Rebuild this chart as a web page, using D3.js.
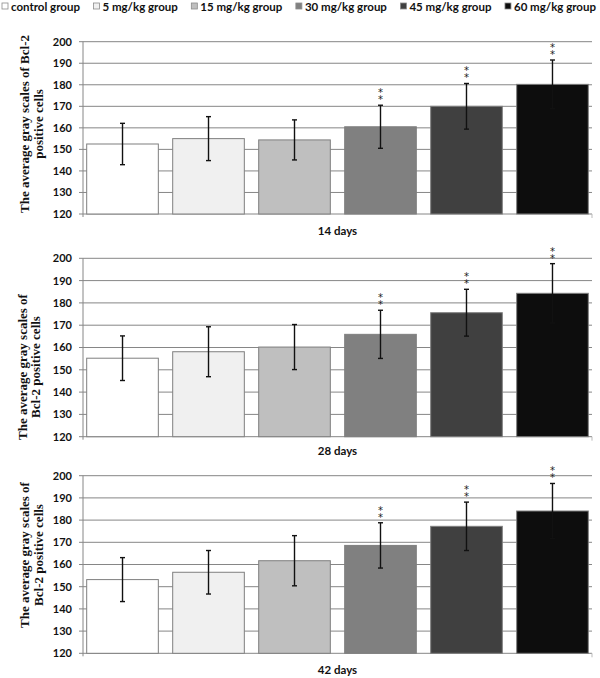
<!DOCTYPE html>
<html>
<head>
<meta charset="utf-8">
<script src="https://cdn.jsdelivr.net/npm/d3@7"></script>
<style>
  html, body { margin: 0; padding: 0; background: #fff; }
  svg { display: block; }
  .stars { writing-mode: vertical-rl; text-orientation: upright; }
</style>
</head>
<body>
<svg id="chart" width="600" height="678"></svg>
<script>
// ---- data ----
const groups = ["control group", "5 mg/kg group", "15 mg/kg group", "30 mg/kg group", "45 mg/kg group", "60 mg/kg group"];
const groupColors = ["#ffffff", "#f0f0f0", "#bfbfbf", "#808080", "#404040", "#0d0d0d"];
const dayLabels = ["14 days", "28 days", "42 days"];
const mean14 = [152.5, 155.0, 154.4, 160.5, 170.0, 180.2];
const err14  = [9.6, 10.2, 9.3, 10.0, 10.6, 11.3];
const mean28 = [155.2, 158.1, 160.2, 165.9, 175.6, 184.3];
const err28  = [10.0, 11.2, 10.1, 10.8, 10.5, 13.3];
const mean42 = [153.2, 156.5, 161.7, 168.6, 177.2, 184.1];
const err42  = [9.9, 9.8, 11.3, 10.2, 10.9, 12.4];
const significance = ["", "", "", "**", "**", "**"];
const yTicks = [120, 130, 140, 150, 160, 170, 180, 190, 200];
const yTitles = [
  ["The average gray scales of Bcl-2", "positive cells"],
  ["The average gray scales of", "Bcl-2 positive cells"],
  ["The average gray scales of", "Bcl-2 positive cells"]
];
const means = [mean14, mean28, mean42];
const errs = [err14, err28, err42];

// ---- layout ----
const layout = [
  { top: 41.7, bottom: 214, labelY: 235, titleCY: 124, titleX: [29, 42.5] },
  { top: 258.3, bottom: 436.7, labelY: 455, titleCY: 367, titleX: [27, 39.5] },
  { top: 475.7, bottom: 653.3, labelY: 673.5, titleCY: 555, titleX: [29, 43] }
];
const plotLeft = 83, plotRight = 592;
const gridColor = "#868686";
const sans = "Lato, 'Open Sans', sans-serif";
const serif = "'Liberation Serif', 'Times New Roman', serif";

const svg = d3.select("#chart");

const x = d3.scaleBand().domain(groups).range([plotLeft, plotRight])
  .paddingInner(0.167).paddingOuter(0.043);

// legend: measure, then spread items across the width
const legend = svg.append("g").attr("class", "legend");
const items = groups.map((g, i) => {
  const item = legend.append("g");
  const r = item.append("rect").attr("y", 3).attr("width", 6).attr("height", 6)
    .attr("fill", groupColors[i]).attr("stroke", "#8c8c8c").attr("stroke-width", 0.8);
  const t = item.append("text").attr("y", 10.5)
    .attr("font-family", sans).attr("font-weight", "bold").attr("font-size", "11.5px")
    .attr("fill", "#111").text(g);
  return { r, t, w: t.node().getComputedTextLength() };
});
const legStart = 2, legEnd = 596;
const used = d3.sum(items, d => 9 + d.w);
const gap = (legEnd - legStart - used) / (items.length - 1);
let lx = legStart;
items.forEach(d => {
  d.r.attr("x", lx);
  d.t.attr("x", lx + 9);
  lx += 9 + d.w + gap;
});

layout.forEach((L, p) => {
  const g = svg.append("g");
  const y = d3.scaleLinear().domain([120, 200]).range([L.bottom, L.top]);

  // gridlines + ticks
  g.selectAll(".grid").data(yTicks).join("line")
    .attr("x1", plotLeft - 4).attr("x2", plotRight)
    .attr("y1", d => y(d)).attr("y2", d => y(d))
    .attr("stroke", gridColor).attr("stroke-width", 1);
  // y axis line
  g.append("line").attr("x1", plotLeft).attr("x2", plotLeft)
    .attr("y1", y(200)).attr("y2", y(120) + 3)
    .attr("stroke", gridColor).attr("stroke-width", 1);
  g.append("line").attr("x1", plotRight).attr("x2", plotRight)
    .attr("y1", y(120)).attr("y2", y(120) + 4)
    .attr("stroke", "#bbb").attr("stroke-width", 1);

  // tick labels
  g.selectAll(".tl").data(yTicks).join("text")
    .attr("x", 72).attr("y", d => y(d)).attr("dy", "0.36em")
    .attr("text-anchor", "end")
    .attr("font-family", sans).attr("font-weight", "bold").attr("font-size", "11px")
    .attr("fill", "#111").text(d => d);

  // bars
  const rows = groups.map((gr, i) => ({ g: gr, i, v: means[p][i], e: errs[p][i], s: significance[i] }));
  g.selectAll(".bar").data(rows).join("rect")
    .attr("x", d => x(d.g)).attr("width", x.bandwidth())
    .attr("y", d => y(d.v)).attr("height", d => y(120) - y(d.v))
    .attr("fill", d => groupColors[d.i])
    .attr("stroke", "#7f7f7f").attr("stroke-width", 1);

  // error bars
  const cx = d => x(d.g) + x.bandwidth() / 2;
  const eb = g.selectAll(".eb").data(rows).join("g");
  eb.append("line").attr("x1", cx).attr("x2", cx)
    .attr("y1", d => y(d.v + d.e)).attr("y2", d => y(d.v - d.e))
    .attr("stroke", "#111").attr("stroke-width", 1.4);
  eb.append("line").attr("x1", d => cx(d) - 2.5).attr("x2", d => cx(d) + 2.5)
    .attr("y1", d => y(d.v + d.e)).attr("y2", d => y(d.v + d.e))
    .attr("stroke", "#111").attr("stroke-width", 1.4);
  eb.append("line").attr("x1", d => cx(d) - 2.5).attr("x2", d => cx(d) + 2.5)
    .attr("y1", d => y(d.v - d.e)).attr("y2", d => y(d.v - d.e))
    .attr("stroke", "#111").attr("stroke-width", 1.4);

  // significance stars: one vertical text per bar, stacked glyphs
  g.selectAll(".stars").data(rows.filter(d => d.s)).join("text")
    .attr("class", "stars")
    .attr("x", cx).attr("y", d => y(d.v + d.e) - 18)
    .attr("font-family", "'DejaVu Sans', sans-serif").attr("font-size", "10px")
    .attr("letter-spacing", "-4px")
    .attr("fill", "#222")
    .text(d => d.s);

  // x label
  g.append("text").attr("x", (plotLeft + plotRight) / 2).attr("y", L.labelY)
    .attr("text-anchor", "middle")
    .attr("font-family", sans).attr("font-weight", "bold").attr("font-size", "11.5px")
    .attr("fill", "#111").text(dayLabels[p]);

  // y title (rotated, two lines)
  yTitles[p].forEach((line, k) => {
    g.append("text")
      .attr("transform", `translate(${L.titleX[k]},${L.titleCY}) rotate(-90)`)
      .attr("text-anchor", "middle")
      .attr("font-family", serif).attr("font-weight", "bold").attr("font-size", "13px")
      .attr("fill", "#111").text(line);
  });
});
</script>
</body>
</html>
